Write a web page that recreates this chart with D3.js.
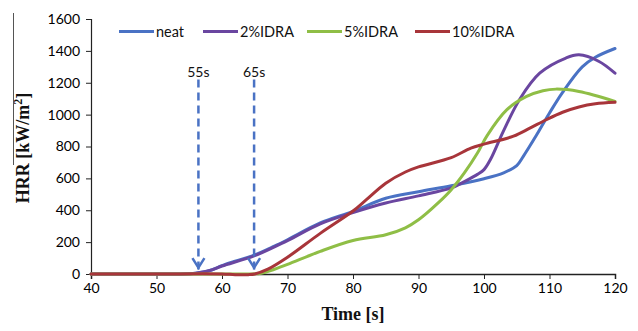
<!DOCTYPE html>
<html>
<head>
<meta charset="utf-8">
<script src="https://cdn.jsdelivr.net/npm/d3@7"></script>
<style>
  html, body { margin: 0; padding: 0; background: #fff; }
  svg { display: block; }
</style>
</head>
<body>
<svg id="chart" width="638" height="331"></svg>
<script>
// Heat release rate curves (time in s, HRR in kW/m²)
const neatT = [40, 50, 55, 56, 58, 60, 62, 65, 68, 70, 75, 80, 85, 90, 95, 100, 103, 105, 106, 108, 110, 112, 115, 117, 120];
const neatV = [0, 0, 2, 5, 20, 52, 80, 120, 175, 215, 320, 393, 475, 516, 554, 598, 635, 680, 738, 870, 1010, 1140, 1300, 1360, 1415];

const idra2T = [40, 50, 55, 56, 58, 60, 65, 70, 75, 80, 85, 90, 95, 97, 99, 100, 101, 103, 105.5, 108.5, 112.5, 114.5, 117.5, 120];
const idra2V = [0, 0, 2, 5, 20, 50, 115, 210, 315, 385, 445, 490, 540, 580, 625, 655, 720, 900, 1100, 1260, 1355, 1375, 1335, 1260];

const idra5T = [40, 50, 60, 64, 66, 68, 70, 75, 80, 85, 88, 90, 93, 95, 97, 99, 100.5, 103.5, 106.5, 109, 111, 114.5, 120];
const idra5V = [0, 0, 0, 0, 5, 30, 60, 142, 210, 246, 290, 340, 446, 529, 634, 759, 870, 1031, 1114, 1150, 1160, 1145, 1083];

const idra10T = [40, 50, 60, 62, 64, 65, 67, 70, 75, 80, 82, 85, 88, 90, 95, 98, 100, 104.5, 107, 109.5, 112, 114.5, 117, 120];
const idra10V = [0, 0, 0, -4, -4, 0, 30, 105, 255, 395, 465, 570, 640, 672, 730, 790, 815, 865, 915, 968, 1015, 1048, 1068, 1077];

const seriesNames = ["neat", "2%IDRA", "5%IDRA", "10%IDRA"];
const seriesColors = ["#4a72c4", "#6a46a0", "#8fbe46", "#a8353a"];

// Arrow markers for ignition times
const markerTimes = [56.4, 64.9];
const markerLabels = ["55s", "65s"];

const xTicks = [40, 50, 60, 70, 80, 90, 100, 110, 120];
const yTicks = [0, 200, 400, 600, 800, 1000, 1200, 1400, 1600];

const series = [
  { name: seriesNames[0], t: neatT, v: neatV, color: seriesColors[0] },
  { name: seriesNames[1], t: idra2T, v: idra2V, color: seriesColors[1] },
  { name: seriesNames[2], t: idra5T, v: idra5V, color: seriesColors[2] },
  { name: seriesNames[3], t: idra10T, v: idra10V, color: seriesColors[3] }
];

const svg = d3.select("#chart");
const plotLeft = 91, plotRight = 615, plotTop = 19, plotBottom = 274;

const x = d3.scaleLinear().domain([40, 120]).range([plotLeft, plotRight]);
const y = d3.scaleLinear().domain([0, 1600]).range([plotBottom, plotTop]);

const tickFont = "Lato, 'Open Sans', sans-serif";
const axisColor = "#222";

// y axis
const yAxis = svg.append("g")
  .attr("transform", `translate(${plotLeft},0)`)
  .call(d3.axisLeft(y).tickValues(yTicks).tickSize(5).tickPadding(6).tickFormat(d3.format("d")));
yAxis.select(".domain").attr("stroke", axisColor).attr("stroke-width", 1.2);
yAxis.selectAll(".tick line").attr("stroke", axisColor);
yAxis.selectAll("text").attr("font-family", tickFont).attr("font-size", 14).attr("fill", "#000");

// x axis
const xAxis = svg.append("g")
  .attr("transform", `translate(0,${plotBottom})`)
  .call(d3.axisBottom(x).tickValues(xTicks).tickSize(5).tickPadding(4).tickFormat(d3.format("d")));
xAxis.select(".domain").attr("stroke", axisColor).attr("stroke-width", 1.5);
xAxis.selectAll(".tick line").attr("stroke", axisColor);
xAxis.selectAll("text").attr("font-family", tickFont).attr("font-size", 14).attr("fill", "#000");

// axis titles
svg.append("text")
  .attr("x", x(80)).attr("y", 320)
  .attr("text-anchor", "middle")
  .attr("font-family", "'Liberation Serif', 'Times New Roman', serif")
  .attr("font-weight", "bold").attr("font-size", 18).attr("fill", "#111")
  .text("Time [s]");

const yTitle = svg.append("text")
  .attr("transform", "translate(29,148) rotate(-90)")
  .attr("text-anchor", "middle")
  .attr("font-family", "'Liberation Serif', 'Times New Roman', serif")
  .attr("font-weight", "bold").attr("font-size", 18).attr("fill", "#111");
yTitle.append("tspan").text("HRR [kW/m");
yTitle.append("tspan").attr("font-size", 12).attr("dy", -7).text("2");
yTitle.append("tspan").attr("dy", 7).text("]");

// thin rule at the left edge
svg.append("line")
  .attr("x1", 13.5).attr("x2", 13.5).attr("y1", 13).attr("y2", 165)
  .attr("stroke", "#555").attr("stroke-width", 1);

// curves
const line = d3.line()
  .x(d => x(d[0]))
  .y(d => y(d[1]))
  .curve(d3.curveCatmullRom.alpha(0.5));

svg.append("g").selectAll("path")
  .data(series)
  .join("path")
  .attr("d", s => line(s.t.map((t, i) => [t, s.v[i]])))
  .attr("fill", "none")
  .attr("stroke", s => s.color)
  .attr("stroke-width", 3)
  .attr("stroke-linejoin", "round")
  .attr("stroke-linecap", "round");

// ignition arrows
const arrowColor = "#4a72c4";
const arrows = svg.append("g");
markerTimes.forEach((t, i) => {
  const ax = x(t);
  arrows.append("line")
    .attr("x1", ax).attr("x2", ax)
    .attr("y1", y(1220)).attr("y2", y(20))
    .attr("stroke", arrowColor).attr("stroke-width", 2.5)
    .attr("stroke-dasharray", "8,5");
  arrows.append("path")
    .attr("d", `M${ax - 6},${y(100)} L${ax},${y(40)} L${ax + 6},${y(100)}`)
    .attr("fill", "none").attr("stroke", arrowColor).attr("stroke-width", 2.5);
  arrows.append("text")
    .attr("x", ax).attr("y", 77)
    .attr("text-anchor", "middle")
    .attr("font-family", tickFont).attr("font-size", 14).attr("fill", "#111")
    .text(markerLabels[i]);
});

// legend
const legendX = [119, 203, 307, 415];
const legend = svg.append("g");
series.forEach((s, i) => {
  legend.append("line")
    .attr("x1", legendX[i]).attr("x2", legendX[i] + 35)
    .attr("y1", 31.5).attr("y2", 31.5)
    .attr("stroke", s.color).attr("stroke-width", 3);
  legend.append("text")
    .attr("x", legendX[i] + 37).attr("y", 37)
    .attr("font-family", tickFont).attr("font-size", 14.5).attr("fill", "#111")
    .text(s.name);
});
</script>
</body>
</html>
